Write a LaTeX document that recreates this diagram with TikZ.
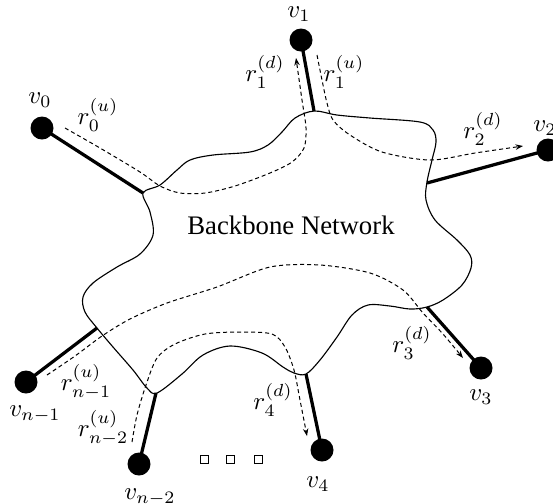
\documentclass[tikz,border=0pt]{standalone}
\usepackage{fontspec}
\setmainfont{Liberation Serif}
\usepackage{amsmath}
\usetikzlibrary{arrows.meta}
\tikzset{
  vtx/.style={circle,fill=black,inner sep=0pt,minimum size=9.2pt},
  spoke/.style={line width=1.3pt},
  cloudline/.style={line width=0.45pt},
  route/.style={line width=0.4pt,dash pattern=on 1.6pt off 1.2pt,-{Stealth[length=3pt,width=2.2pt]}},
  lbl/.style={inner sep=0pt,font=\normalsize},
  dotbox/.style={draw,line width=0.4pt,minimum size=3.2pt,inner sep=0pt},
}

\begin{document}
\begin{tikzpicture}[x=0.4pt,y=-0.4pt]
  \useasboundingbox (0,0) rectangle (553,503);

  % the backbone cloud
  \draw[cloudline] plot[smooth cycle,tension=0.55] coordinates {
    (143,193) (160,185) (177,170) (190,160) (213,155) (250,152) (268,145)
    (282,132) (295,118) (314,111) (337,115) (370,118) (420,122) (433,130)
    (436,142) (432,160) (427,182) (426,200) (435,220) (457,240) (470,255)
    (471,268) (462,285) (443,300) (427,307) (410,309) (390,306) (368,305)
    (352,315) (337,337) (320,360) (306,374) (294,373) (283,367) (262,353)
    (230,346) (203,355) (182,374) (157,393) (147,388) (133,370)
    (113,347) (97,328) (85,312) (83,297) (93,283) (117,267) (140,254)
    (153,235) (150,212)};
  \node[font=\fontsize{10.7}{13}\selectfont] at (291,225) {Backbone Network};

  % access points on the cloud
  \coordinate (e0) at (143,193);
  \coordinate (e1) at (314,111);
  \coordinate (e2) at (427,183);
  \coordinate (e3) at (427,307);
  \coordinate (e4) at (306,374);
  \coordinate (en2) at (156,393);
  \coordinate (en1) at (97,328);

  % end nodes
  \node[vtx] (v0) at (42,128) {};
  \node[vtx] (v1) at (301,40) {};
  \node[vtx] (v2) at (548,150) {};
  \node[vtx] (v3) at (481,368) {};
  \node[vtx] (v4) at (322,450) {};
  \node[vtx] (vn2) at (139,464) {};
  \node[vtx] (vn1) at (26,382) {};

  \draw[spoke] (v0.center) -- (e0);
  \draw[spoke] (v1.center) -- (e1);
  \draw[spoke] (v2.center) -- (e2);
  \draw[spoke] (v3.center) -- (e3);
  \draw[spoke] (v4.center) -- (e4);
  \draw[spoke] (vn2.center) -- (en2);
  \draw[spoke] (vn1.center) -- (en1);

  \node[lbl] at (40,100) {$v_0$};
  \node[lbl] at (299,14) {$v_1$};
  \node[lbl] at (545,128) {$v_2$};
  \node[lbl] at (481,397) {$v_3$};
  \node[lbl] at (318,484) {$v_4$};
  \node[lbl] at (150,497) {$v_{n-2}$};
  \node[lbl] at (35,414) {$v_{n-1}$};

  % routes through the backbone
  \draw[route] plot[smooth] coordinates {(65,128) (100,148) (140,172) (160,186)
    (180,193) (205,193) (235,186) (270,173) (292,162) (304,148) (306,128)
    (302,100) (296,58)};
  \draw[route] plot[smooth] coordinates {(317,55) (322,80) (327,103) (333,120)
    (350,135) (382,152) (430,160) (475,153) (523,146)};
  \draw[route] plot[smooth] coordinates {(47,375) (75,356) (102,336) (130,319)
    (167,303) (217,287) (270,267) (320,265) (370,273) (403,290) (423,313)
    (443,334) (463,358)};
  \draw[route] plot[smooth] coordinates {(132,442) (137,415) (146,385)
    (157,358) (175,344) (205,334) (240,332) (272,334) (285,347) (294,370)
    (300,400) (307,436)};

  \node[lbl] at (98,115) {$r_0^{(u)}$};
  \node[lbl] at (265,72) {$r_1^{(d)}$};
  \node[lbl] at (344,72) {$r_1^{(u)}$};
  \node[lbl] at (483,129) {$r_2^{(d)}$};
  \node[lbl] at (412,343) {$r_3^{(d)}$};
  \node[lbl] at (273,400) {$r_4^{(d)}$};
  \node[lbl] at (86,382) {$r_{n-1}^{(u)}$};
  \node[lbl] at (103,428) {$r_{n-2}^{(u)}$};

  % more end nodes
  \foreach \x [count=\i] in {204,230,258}
    \node[dotbox] (dot\i) at (\x,459) {};
\end{tikzpicture}
\end{document}
